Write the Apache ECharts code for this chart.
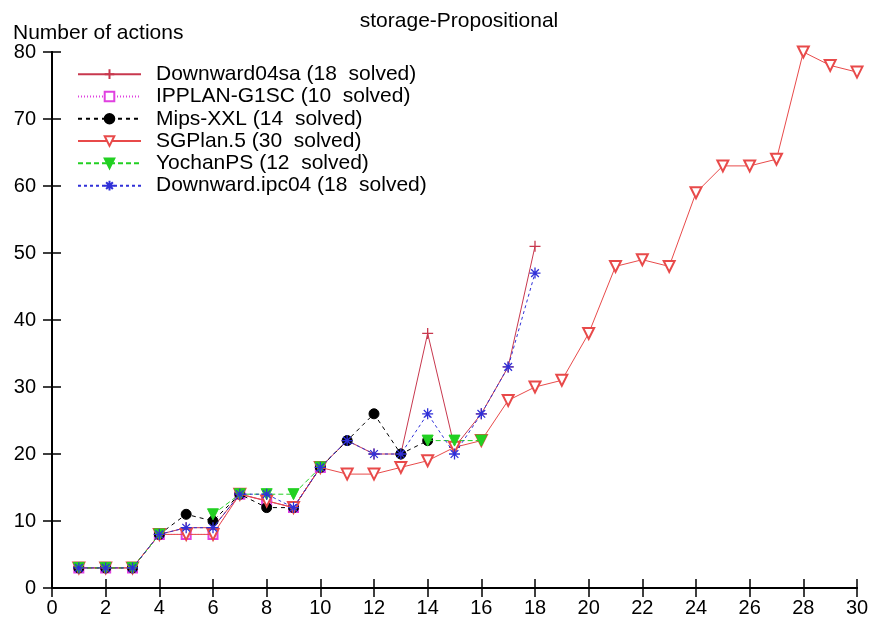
<!DOCTYPE html>
<html>
<head>
<meta charset="utf-8">
<script src="https://cdn.jsdelivr.net/npm/echarts@6/dist/echarts.min.js"></script>
<style>
html,body{margin:0;padding:0;background:#fff;}
#chart{width:875px;height:621px;}
</style>
</head>
<body>
<div id="chart"></div>
<script>
// ---- data ----
const chartTitle = 'storage-Propositional';
const yAxisTitle = 'Number of actions';
const xTicks = [0, 2, 4, 6, 8, 10, 12, 14, 16, 18, 20, 22, 24, 26, 28, 30];
const yTicks = [0, 10, 20, 30, 40, 50, 60, 70, 80];

const problems = [1,2,3,4,5,6,7,8,9,10,11,12,13,14,15,16,17,18,19,20,21,22,23,24,25,26,27,28,29,30];

const downward04sa = [3,3,3,8,9,9,14,13,12,18,22,20,20,38,21,26,33,51];
const ipplanG1SC   = [3,3,3,8,8,8,14,13,12,18];
const mipsXXL      = [3,3,3,8,11,10,14,12,12,18,22,26,20,22];
const sgplan5      = [3,3,3,8,8,8,14,13,12,18,17,17,18,19,21,22,28,30,31,38,48,49,48,59,63,63,64,80,78,77];
const yochanPS     = [3,3,3,8,null,11,14,14,14,18,null,null,null,22,22,22];
const downwardIpc04= [3,3,3,8,9,9,14,14,12,18,22,20,20,26,20,26,33,47];

const seriesNames = [
  'Downward04sa (18  solved)',
  'IPPLAN-G1SC (10  solved)',
  'Mips-XXL (14  solved)',
  'SGPlan.5 (30  solved)',
  'YochanPS (12  solved)',
  'Downward.ipc04 (18  solved)'
];

function pairs(vals){
  return vals.map((v,i)=>[problems[i], v === null ? '-' : v]);
}

const FONT = '"Liberation Sans", Arial, sans-serif';
const plusPath = 'path://M0,5L10,5M5,0L5,10';
const starPath = 'path://M5,0L5,10M0,5L10,5M1.5,1.5L8.5,8.5M8.5,1.5L1.5,8.5';

const styles = [
  {data: downward04sa, color:'#c8384e', symbol: plusPath, size: 11, dash:'solid', stroke:true},
  {data: ipplanG1SC,   color:'#e040e0', symbol:'emptyRect', size: 9, dash:[1,2]},
  {data: mipsXXL,      color:'#000000', symbol:'circle', size: 10, dash:[4,4]},
  {data: sgplan5,      color:'#e84a4a', symbol:'emptyTriangle', size: 11, dash:'solid', rotate:180},
  {data: yochanPS,     color:'#22d022', symbol:'triangle', size: 11, dash:[5,3], rotate:180},
  {data: downwardIpc04,color:'#3030d8', symbol: starPath, size: 11, dash:[3,3], stroke:true}
];

const series = styles.map((s, i) => ({
  name: seriesNames[i],
  type: 'line',
  data: pairs(s.data),
  symbol: s.symbol,
  symbolSize: s.size,
  symbolRotate: s.rotate || 0,
  showAllSymbol: true,
  connectNulls: false,
  animation: false,
  lineStyle: {color: s.color, width: 1, type: s.dash},
  itemStyle: s.stroke ? {color: s.color, borderColor: s.color, borderWidth: 1.3} : {color: s.color, borderColor: s.color, borderWidth: 1},
  emphasis: {disabled: true},
  z: 2 + i
}));

const chart = echarts.init(document.getElementById('chart'), null, {renderer:'canvas'});
const axisLine = {show:true, lineStyle:{color:'#000', width:2}};
const tick = {show:true, inside:true, length:9, lineStyle:{color:'#000', width:1.5}};
chart.setOption({
  backgroundColor: '#fff',
  animation: false,
  textStyle: {fontFamily: FONT},
  title: [
    {text: chartTitle, left: 454, top: 6, textAlign: 'center',
     textStyle: {fontFamily: FONT, fontSize: 21, fontWeight: 'normal', color: '#000'}},
    {text: yAxisTitle, left: 8, top: 18,
     textStyle: {fontFamily: FONT, fontSize: 21, fontWeight: 'normal', color: '#000'}}
  ],
  legend: {
    orient: 'vertical',
    left: 77, top: 63,
    padding: 0,
    itemWidth: 63, itemHeight: 12,
    itemGap: 0,
    textStyle: {fontFamily: FONT, fontSize: 21, color: '#000', padding: [0,0,0,10], lineHeight: 22.3},
    selectedMode: false,
    data: seriesNames
  },
  grid: {left: 52, right: 18, top: 52, bottom: 33, containLabel: false},
  xAxis: [
    {type:'value', min:0, max:30, interval:2, position:'bottom',
     axisLine, axisTick: tick,
     axisLabel:{fontFamily: FONT, fontSize: 20, color:'#000', margin: 10},
     splitLine:{show:false}},
    {type:'value', min:0, max:30, interval:2, position:'top',
     axisLine, axisTick: tick,
     axisLabel:{show:false}, splitLine:{show:false}}
  ],
  yAxis: [
    {type:'value', min:0, max:80, interval:10, position:'left',
     axisLine, axisTick: tick,
     axisLabel:{fontFamily: FONT, fontSize: 20, color:'#000', margin: 16},
     splitLine:{show:false}},
    {type:'value', min:0, max:80, interval:10, position:'right',
     axisLine, axisTick: tick,
     axisLabel:{show:false}, splitLine:{show:false}}
  ],
  series
});
</script>
</body>
</html>
